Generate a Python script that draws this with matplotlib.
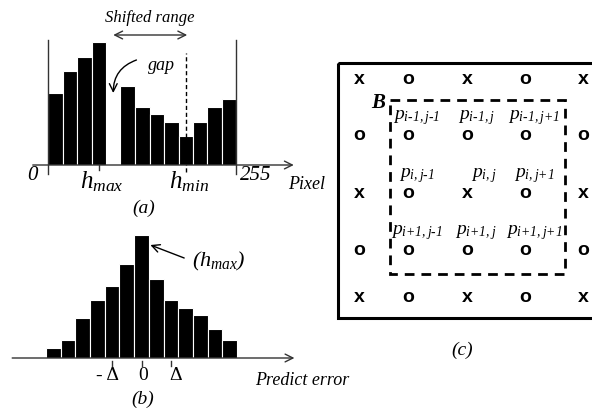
import matplotlib
matplotlib.use("Agg")
import matplotlib.pyplot as plt
from matplotlib.patches import Rectangle

plt.rcParams['mathtext.fontset'] = 'custom'
plt.rcParams['mathtext.it'] = 'Liberation Serif:italic'
plt.rcParams['mathtext.rm'] = 'Liberation Serif:italic'
plt.rcParams['mathtext.bf'] = 'Liberation Serif:bold'

# histogram (a): pixel value bins, the 5th bin is the emptied gap
hist_a = [72, 94, 108, 123, 0, 79, 58, 51, 43, 29, 43, 58, 66]
hmax_bin_a = 3
hmin_bin_a = 9
gap_bin_a = 4

# histogram (b): prediction error bins
hist_b = [10, 18, 40, 58, 72, 94, 123, 79, 58, 50, 43, 29, 18]
zero_bin_b = 6
delta_bins_b = [4, 8]

# grid (c): x / o pattern and neighbour labels
grid_marks = ["xoxox", "ooooo", "xoxox", "ooooo", "xoxox"]
nb_labels = [
    [r"$p_{i\text{-}1,j\text{-}1}$", r"$p_{i\text{-}1,j}$", r"$p_{i\text{-}1,j\text{+}1}$"],
    [r"$p_{i,j\text{-}1}$", r"$p_{i,j}$", r"$p_{i,j\text{+}1}$"],
    [r"$p_{i\text{+}1,j\text{-}1}$", r"$p_{i\text{+}1,j}$", r"$p_{i\text{+}1,j\text{+}1}$"],
]

W, H = 592, 419
fig = plt.figure(figsize=(W / 100, H / 100), dpi=100)

# overlay in pixel coords for text and panel (c)
ax0 = fig.add_axes([0, 0, 1, 1])
ax0.set_xlim(0, W)
ax0.set_ylim(H, 0)
ax0.axis('off')

serif = 'Liberation Serif'
axcol = '#333333'


def px_axes(x0, x1, ytop, ybot):
    return fig.add_axes([x0 / W, (H - ybot) / H, (x1 - x0) / W, (ybot - ytop) / H])


# ---------- panel (a)
bw = 14.5
ax_a = px_axes(33, 295, 30, 180)
ax_a.set_xlim((33 - 48) / bw - 0.5, (295 - 48) / bw - 0.5)
ax_a.set_ylim(-15, 135)
ax_a.axis('off')
ax_a.bar(range(len(hist_a)), hist_a, width=1.0, color='black',
         edgecolor='white', linewidth=0.8)
ax_a.annotate('', xy=(16.45, 0), xytext=(-1.55, 0),
              arrowprops=dict(arrowstyle='->', lw=1.0, color=axcol,
                              mutation_scale=14, shrinkA=0, shrinkB=0))
n = len(hist_a)
for xv in (-0.5, n - 0.5):
    ax_a.plot([xv, xv], [-9, 125], color=axcol, lw=1.0)
ax_a.plot([hmin_bin_a, hmin_bin_a], [-7, 112], color='black', lw=1.0,
          ls=(0, (3, 2)))
ax_a.plot([hmax_bin_a, hmax_bin_a], [-5, 0], color=axcol, lw=1.0)
ax_a.annotate('', xy=(gap_bin_a, 130), xytext=(hmin_bin_a + 0.1, 130),
              arrowprops=dict(arrowstyle='<->', lw=1.0, color=axcol,
                              mutation_scale=14, shrinkA=0, shrinkB=0))
ax_a.text((gap_bin_a + hmin_bin_a) / 2 + 0.05, 147, 'Shifted range',
          family=serif, style='italic', fontsize=12, ha='center', va='center')
ax_a.text(7.3, 100, 'gap', family=serif, style='italic', fontsize=13,
          ha='center', va='center')
ax_a.annotate('', xy=(gap_bin_a, 72), xytext=(5.6, 105),
              arrowprops=dict(arrowstyle='->', lw=1.0, color='black',
                              connectionstyle='arc3,rad=0.35',
                              mutation_scale=14, shrinkA=0, shrinkB=0))

ax0.text(32, 175, '0', family=serif, style='italic', fontsize=15,
         ha='center', va='center')
ax0.text(102, 182, r'$h_{max}$', fontsize=18, ha='center', va='center')
ax0.text(189, 182, r'$h_{min}$', fontsize=18, ha='center', va='center')
ax0.text(256, 175, '255', family=serif, style='italic', fontsize=15,
         ha='center', va='center')
ax0.text(288, 184, 'Pixel', family=serif, style='italic', fontsize=13,
         ha='left', va='center')
ax0.text(144, 208, '(a)', family=serif, style='italic', fontsize=14,
         ha='center', va='center')

# ---------- panel (b)
bw_b = 14.7
ax_b = px_axes(12, 295, 220, 370)
ax_b.set_xlim((12 - 46) / bw_b - 0.5, (295 - 46) / bw_b - 0.5)
ax_b.set_ylim(-12, 138)
ax_b.axis('off')
ax_b.bar(range(len(hist_b)), hist_b, width=1.0, color='black',
         edgecolor='white', linewidth=0.8)
ax_b.annotate('', xy=(16.4, 0), xytext=(-2.8, 0),
              arrowprops=dict(arrowstyle='->', lw=1.0, color=axcol,
                              mutation_scale=14, shrinkA=0, shrinkB=0))
for xv in [delta_bins_b[0], zero_bin_b, delta_bins_b[1]]:
    ax_b.plot([xv, xv], [-3, -8], color=axcol, lw=1.0)
ax_b.annotate('', xy=(zero_bin_b + 0.6, hist_b[zero_bin_b] - 10),
              xytext=(zero_bin_b + 2.9, hist_b[zero_bin_b] - 23),
              arrowprops=dict(arrowstyle='->', lw=1.0, color='black',
                              mutation_scale=14, shrinkA=0, shrinkB=0))

ax0.text(108, 375, '- Δ', family=serif, fontsize=14, ha='center', va='center')
ax0.text(143, 375, '0', family=serif, fontsize=14, ha='center', va='center')
ax0.text(176, 375, 'Δ', family=serif, fontsize=14, ha='center', va='center')
ax0.text(255, 380, 'Predict error', family=serif, style='italic', fontsize=13,
         ha='left', va='center')
ax0.text(219, 261, r'$(h_{max})$', fontsize=16, ha='center', va='center')
ax0.text(143, 399, '(b)', family=serif, style='italic', fontsize=14,
         ha='center', va='center')

# ---------- panel (c)
cols = [359, 408, 467, 525, 583]
rows = [80, 135, 193, 250, 297]
ax0.add_patch(Rectangle((338, 63), 270, 255, fill=False, lw=2.2,
                        ec='black', clip_on=False))
ax0.add_patch(Rectangle((390, 100), 175, 174, fill=False, lw=2.0,
                        ec='black', ls=(0, (3.5, 2.5))))
for r, line in enumerate(grid_marks):
    for c, ch in enumerate(line):
        ax0.text(cols[c], rows[r], ch, family='Liberation Sans',
                 weight='bold', fontsize=14, ha='center', va='center')
for r in range(3):
    for c in range(3):
        dx = 17 if (r, c) == (1, 1) else 9
        ax0.text(cols[c + 1] + dx, rows[r + 1] - 8, nb_labels[r][c],
                 fontsize=14, ha='center', va='bottom')
ax0.text(378, 103, 'B', family=serif, style='italic', weight='bold',
         fontsize=15, ha='center', va='center')
ax0.text(462, 350, '(c)', family=serif, style='italic', fontsize=14,
         ha='center', va='center')

fig.savefig('out.png', dpi=100)
